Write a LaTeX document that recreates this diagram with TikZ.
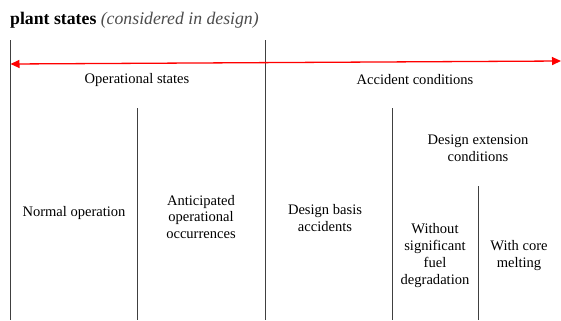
\documentclass[tikz,border=0pt]{standalone}
\usepackage{fontspec}
\setmainfont{Liberation Serif}
\usetikzlibrary{arrows.meta}
\begin{document}
\begin{tikzpicture}[x=1bp,y=-1bp,
  divider/.style={draw=black!75, line width=0.9bp},
  label/.style={align=center, font=\fontsize{14.6}{17}\selectfont, inner sep=0pt},
  span/.style={draw=red, line width=1.3bp, {Triangle[length=9bp,width=8bp]}-{Triangle[length=9bp,width=8bp]}}]
  \useasboundingbox (0,0) rectangle (561,320);

  % heading
  \node[anchor=base west, inner sep=0pt, font=\fontsize{17.8}{21}\selectfont] (title) at (10,24.5)
    {\textbf{plant states} \textcolor{black!70}{\textit{(considered in design)}}};

  % column dividers
  \coordinate (d1t) at (10,40);   \coordinate (d1b) at (10,320);
  \coordinate (d2t) at (265,40);  \coordinate (d2b) at (265,320);
  \coordinate (d3t) at (137,108); \coordinate (d3b) at (137,320);
  \coordinate (d4t) at (392,108); \coordinate (d4b) at (392,320);
  \coordinate (d5t) at (478,186); \coordinate (d5b) at (478,320);
  \draw[divider] (d1t) -- (d1b);
  \draw[divider] (d2t) -- (d2b);
  \draw[divider] (d3t) -- (d3b);
  \draw[divider] (d4t) -- (d4b);
  \draw[divider] (d5t) -- (d5b);

  % range arrow
  \coordinate (aL) at (10.5,64);
  \coordinate (aR) at (561,61);
  \draw[span] (aL) -- (aR);

  % category labels
  \node[label] (ops) at (137,80) {Operational states};
  \node[label] (acc) at (415,80) {Accident conditions};
  \node[label] (dec) at (478,148.5) {Design extension\\conditions};
  \node[label] (norm) at (74,213) {Normal operation};
  \node[label] (aoo) at (201,217) {Anticipated\\operational\\occurrences};
  \node[label] (dba) at (325,218) {Design basis\\accidents};
  \node[label] (nofuel) at (435,255.5) {Without\\significant\\fuel\\degradation};
  \node[label] (core) at (519,255.5) {With core\\melting};
\end{tikzpicture}
\end{document}
